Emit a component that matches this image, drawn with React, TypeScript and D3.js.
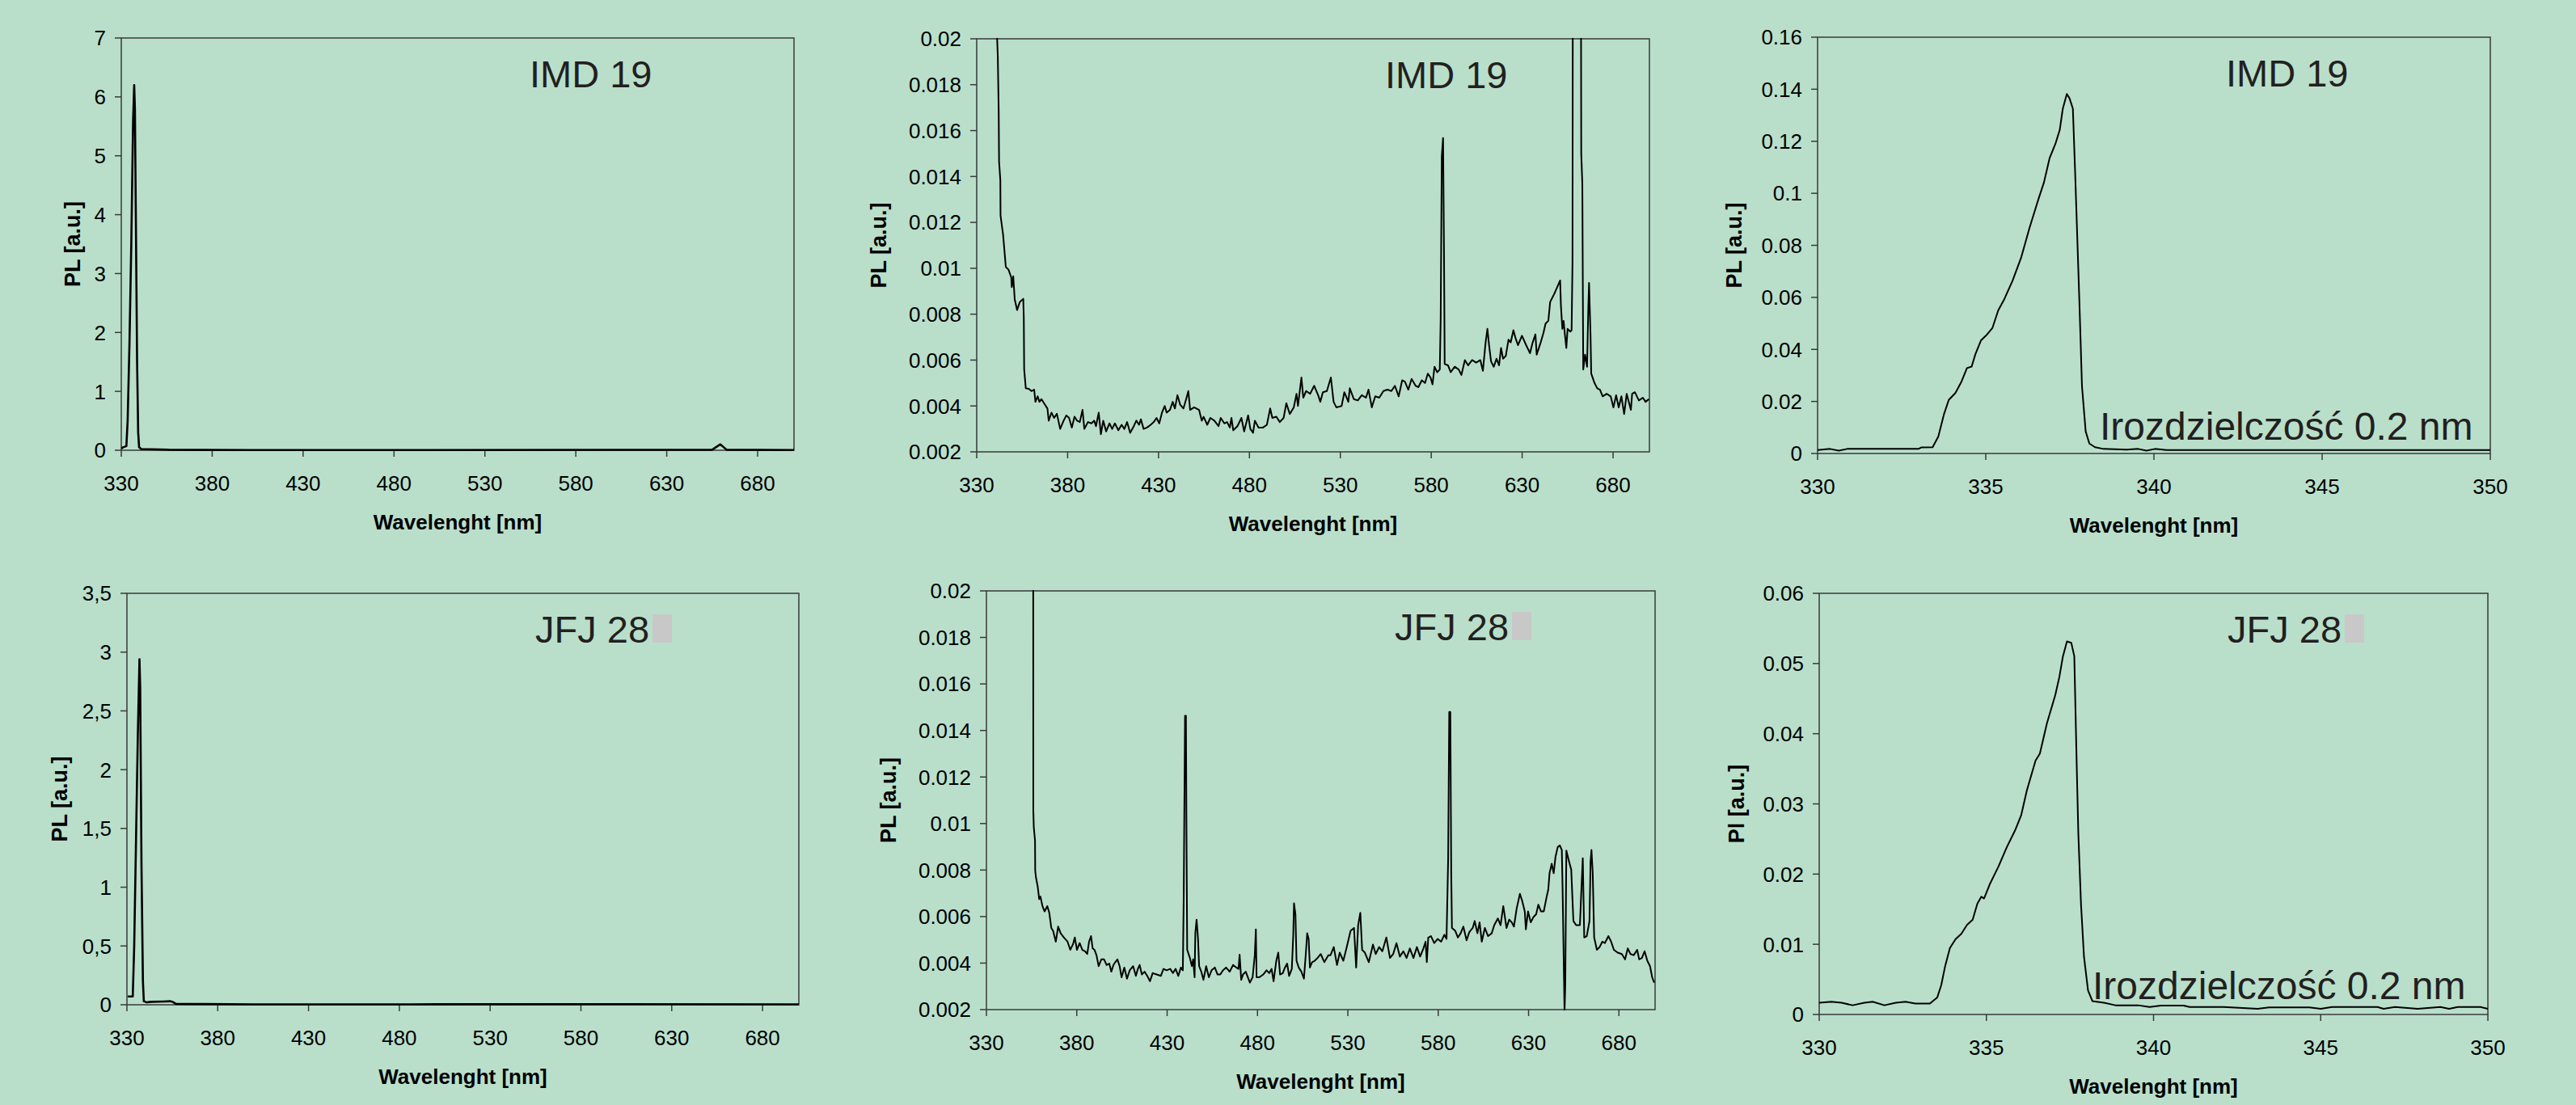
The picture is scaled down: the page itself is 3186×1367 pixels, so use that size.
import * as d3 from 'd3';

// --- data: [wavelength nm, PL a.u.] ---
const imd19Full: [number, number][] = [
  [330, 0.03], [331, 0.05], [332.8, 0.07], [333.5, 0.5], [334.5, 1.8], [335.5, 3.5],
  [336.5, 5.6], [337.1, 6.2], [337.5, 5.8], [338, 4.0], [338.7, 1.5], [339.3, 0.3],
  [339.8, 0.05], [341, 0.02], [356, 0.008], [400, 0.003], [500, 0.004], [655, 0.008],
  [657, 0.05], [659.5, 0.1], [661, 0.06], [663, 0.008], [700, 0.004],
];

const jfj28Full: [number, number][] = [
  [330.5, 0.07], [333.2, 0.07], [334, 0.5], [335, 1.4], [336, 2.3], [336.9, 2.94],
  [337.3, 2.7], [338, 1.2], [338.8, 0.2], [339.3, 0.03], [341, 0.02], [343, 0.025],
  [350, 0.028], [354, 0.03], [355.5, 0.022], [357, 0.008], [400, 0.0035], [500, 0.004],
  [600, 0.005], [700, 0.003],
];

const imd19Mid: [number, number][] = [
  [340.5, 0.03], [341.0, 0.0205], [341.6, 0.01924], [342.1, 0.01677], [342.3, 0.01465], [343.0, 0.01383],
  [343.1, 0.0123], [344.5, 0.01147], [346.0, 0.01006], [347.5, 0.00994], [349.0, 0.0096], [349.3, 0.00918],
  [350.1, 0.00965], [350.9, 0.00865], [352.2, 0.00818], [353.7, 0.00853], [355.6, 0.00867], [355.9, 0.00783],
  [356.1, 0.0056], [357.0, 0.00477], [358.6, 0.00475], [360.1, 0.00465], [361.6, 0.00471], [362.3, 0.00418],
  [363.5, 0.00442], [364.5, 0.00418], [365.6, 0.0043], [367.0, 0.00412], [368.9, 0.00389], [369.6, 0.00336],
  [371.1, 0.00371], [372.6, 0.00348], [374.1, 0.00366], [375.9, 0.003], [377.8, 0.00336], [379.3, 0.00359],
  [380.8, 0.00348], [382.3, 0.00306], [383.8, 0.00353], [385.2, 0.00336], [386.7, 0.0033], [388.2, 0.00383],
  [389.2, 0.003], [391.2, 0.0033], [393.1, 0.00324], [394.6, 0.00336], [395.6, 0.00312], [397.1, 0.00371],
  [398.3, 0.00277], [399.6, 0.00336], [401.2, 0.00289], [403.0, 0.00324], [404.5, 0.003], [406.0, 0.00324],
  [407.9, 0.00294], [409.7, 0.00318], [411.2, 0.003], [412.7, 0.0033], [414.4, 0.00283], [416.4, 0.00312],
  [417.8, 0.00336], [419.3, 0.00318], [420.3, 0.00342], [421.8, 0.003], [423.7, 0.00306], [425.7, 0.00318],
  [427.4, 0.0033], [428.9, 0.00348], [430.4, 0.00324], [431.9, 0.00371], [433.4, 0.004], [434.5, 0.00371],
  [436.3, 0.00383], [437.8, 0.00418], [439.0, 0.00389], [440.4, 0.00447], [441.9, 0.00406], [443.7, 0.00389],
  [445.2, 0.0043], [446.4, 0.00465], [447.4, 0.00383], [449.6, 0.00394], [452.3, 0.00383], [453.8, 0.00336],
  [454.8, 0.00353], [456.8, 0.00318], [458.5, 0.00348], [460.7, 0.00336], [463.0, 0.00312], [464.2, 0.00348],
  [466.2, 0.00324], [467.7, 0.0033], [469.2, 0.00306], [470.1, 0.00348], [471.1, 0.00294], [473.4, 0.00312],
  [475.6, 0.00348], [477.1, 0.00289], [479.3, 0.00359], [480.5, 0.003], [482.0, 0.00283], [483.0, 0.00336],
  [485.0, 0.00306], [487.5, 0.00306], [489.6, 0.00318], [491.4, 0.00389], [492.6, 0.00348], [494.8, 0.00353],
  [496.7, 0.0033], [498.8, 0.00348], [500.3, 0.00412], [502.2, 0.00365], [504.4, 0.00394], [505.9, 0.00453],
  [506.7, 0.004], [508.6, 0.00524], [509.6, 0.00436], [511.2, 0.00465], [513.4, 0.00453], [515.6, 0.00488],
  [517.8, 0.00447], [519.0, 0.00418], [520.4, 0.0046], [522.6, 0.00465], [524.8, 0.00524], [526.3, 0.00418],
  [527.8, 0.00394], [530.7, 0.004], [532.2, 0.0046], [534.4, 0.00418], [535.2, 0.00477], [537.4, 0.0043],
  [539.6, 0.00424], [541.8, 0.00447], [544.1, 0.00436], [545.5, 0.00471], [547.3, 0.00394], [549.2, 0.00442],
  [551.4, 0.00436], [553.7, 0.00465], [555.9, 0.00471], [558.1, 0.00465], [560.0, 0.00488], [562.1, 0.00442],
  [564.0, 0.00512], [565.5, 0.00506], [567.4, 0.00471], [569.2, 0.00518], [571.4, 0.00488], [572.9, 0.00482],
  [574.8, 0.00512], [576.6, 0.005], [578.1, 0.00541], [579.6, 0.00524], [580.7, 0.00494], [581.8, 0.00571],
  [583.3, 0.00547], [584.7, 0.00559], [585.2, 0.00783], [585.8, 0.01488], [586.5, 0.01568], [587.0, 0.01088],
  [587.4, 0.00583], [589.2, 0.00577], [590.7, 0.00547], [592.9, 0.00571], [595.1, 0.00559], [596.6, 0.00535],
  [598.5, 0.006], [600.3, 0.00577], [602.5, 0.006], [604.7, 0.00589], [607.0, 0.006], [608.4, 0.00553],
  [609.9, 0.00677], [610.9, 0.00736], [611.8, 0.00665], [612.9, 0.00594], [614.4, 0.00571], [615.9, 0.00606],
  [617.3, 0.00577], [618.4, 0.00653], [619.5, 0.00606], [621.0, 0.00618], [622.5, 0.00689], [623.7, 0.00677],
  [625.2, 0.0073], [626.2, 0.007], [627.7, 0.00665], [629.9, 0.00706], [632.2, 0.00665], [634.3, 0.0063],
  [635.8, 0.00677], [637.3, 0.00712], [638.0, 0.00624], [640.2, 0.00677], [641.7, 0.00718], [642.9, 0.00759],
  [644.4, 0.00771], [645.4, 0.00853], [647.7, 0.00889], [650.9, 0.00947], [651.3, 0.00842], [652.1, 0.00736],
  [652.8, 0.00771], [653.5, 0.00712], [654.3, 0.00653], [655.0, 0.00736], [656.5, 0.00724], [657.2, 0.0073],
  [657.7, 0.0103], [658.1, 0.04], [660.0, 0.06], [662.2, 0.03], [662.5, 0.015], [663.1, 0.0137],
  [663.6, 0.00559], [664.6, 0.00624], [665.7, 0.00571], [666.4, 0.0083], [666.8, 0.00936], [667.6, 0.00712],
  [668.0, 0.00541], [669.8, 0.005], [671.3, 0.00477], [672.8, 0.00471], [674.3, 0.00442], [676.5, 0.00453],
  [678.7, 0.00442], [680.2, 0.00394], [681.7, 0.00447], [683.1, 0.00394], [684.6, 0.00442], [686.1, 0.00365],
  [687.5, 0.00453], [689.8, 0.00383], [690.5, 0.00453], [692.0, 0.0046], [694.2, 0.00424], [696.4, 0.00436],
  [697.9, 0.00418], [699.7, 0.0043],
];

const jfj28Mid: [number, number][] = [
  [355.6, 0.03], [355.9, 0.0205], [355.95, 0.01057], [356.2, 0.00986], [356.9, 0.00927], [357.0, 0.00798],
  [357.4, 0.00769], [358.4, 0.00728], [359.2, 0.00675], [359.9, 0.00686], [361.0, 0.00645], [362.2, 0.00622],
  [363.7, 0.00645], [364.8, 0.00616], [365.9, 0.00551], [366.9, 0.00539], [368.4, 0.00492], [369.7, 0.00557],
  [371.1, 0.00528], [372.9, 0.0051], [374.9, 0.00492], [376.4, 0.00457], [377.9, 0.00481], [378.9, 0.0051],
  [380.1, 0.00457], [381.6, 0.00486], [383.1, 0.00457], [384.6, 0.00451], [385.8, 0.00439], [386.8, 0.00492],
  [387.9, 0.00516], [388.8, 0.00463], [389.8, 0.00457], [390.9, 0.00434], [392.1, 0.00387], [393.6, 0.00416],
  [395.1, 0.00416], [396.5, 0.00392], [398.0, 0.00398], [399.1, 0.00363], [400.3, 0.00392], [401.3, 0.00404],
  [402.5, 0.00416], [403.7, 0.00387], [404.8, 0.00339], [406.3, 0.00381], [407.8, 0.00333], [409.3, 0.00369],
  [411.2, 0.00387], [412.7, 0.00345], [413.8, 0.00375], [414.8, 0.00392], [416.0, 0.00351], [417.5, 0.00363],
  [419.0, 0.00345], [420.5, 0.00322], [422.0, 0.00357], [424.2, 0.00351], [426.5, 0.00345], [428.0, 0.00375],
  [429.7, 0.00369], [431.7, 0.00375], [433.2, 0.00357], [434.7, 0.00375], [436.2, 0.00345], [437.6, 0.00381],
  [438.7, 0.00369], [439.2, 0.00704], [439.9, 0.01463], [440.4, 0.01463], [440.7, 0.00963], [441.1, 0.00457],
  [442.6, 0.00422], [443.7, 0.00387], [444.4, 0.00416], [445.2, 0.00339], [445.6, 0.00528], [446.3, 0.00587],
  [447.1, 0.00504], [447.7, 0.00387], [448.9, 0.00363], [450.1, 0.00328], [451.6, 0.00387], [453.1, 0.00339],
  [454.6, 0.00369], [456.4, 0.00381], [457.9, 0.00351], [459.4, 0.00351], [460.9, 0.00369], [462.6, 0.00381],
  [464.6, 0.00363], [466.5, 0.00392], [468.3, 0.00381], [469.5, 0.00375], [470.1, 0.00436], [471.0, 0.00328],
  [472.0, 0.00351], [473.5, 0.00363], [475.8, 0.00316], [477.3, 0.00339], [478.5, 0.00434], [479.1, 0.00545],
  [479.5, 0.00339], [481.0, 0.00339], [483.2, 0.00351], [485.0, 0.00369], [486.5, 0.00357], [487.8, 0.00375],
  [488.9, 0.00322], [490.4, 0.0041], [491.5, 0.00445], [492.5, 0.00351], [494.0, 0.00357], [495.2, 0.00381],
  [496.4, 0.00398], [497.5, 0.00345], [499.0, 0.00375], [499.8, 0.00522], [500.2, 0.00657], [501.0, 0.0061],
  [501.6, 0.0041], [502.8, 0.00381], [504.3, 0.00363], [505.7, 0.00333], [506.9, 0.00457], [507.5, 0.00528],
  [508.3, 0.00504], [509.0, 0.00381], [510.2, 0.00404], [511.7, 0.0041], [513.2, 0.00422], [515.0, 0.00439],
  [517.0, 0.00404], [519.2, 0.00434], [520.4, 0.00434], [522.2, 0.00469], [524.0, 0.00392], [525.5, 0.00445],
  [527.5, 0.0041], [529.4, 0.00469], [531.5, 0.00539], [533.4, 0.00551], [534.6, 0.00381], [535.7, 0.00563],
  [536.9, 0.00616], [537.9, 0.00457], [539.4, 0.00445], [541.6, 0.00404], [543.9, 0.0048], [545.4, 0.00439],
  [547.3, 0.00469], [549.1, 0.00451], [551.3, 0.0051], [553.3, 0.00422], [555.1, 0.00439], [556.9, 0.00486],
  [558.8, 0.00428], [560.7, 0.00451], [562.5, 0.00422], [564.3, 0.00463], [566.3, 0.00422], [568.2, 0.00469],
  [570.0, 0.00428], [571.8, 0.00463], [573.0, 0.00492], [573.7, 0.00404], [574.5, 0.0051], [576.0, 0.00516],
  [577.8, 0.00486], [579.7, 0.00504], [581.6, 0.00492], [583.4, 0.00522], [584.6, 0.00504], [585.5, 0.00845],
  [586.1, 0.0148], [586.7, 0.0148], [587.2, 0.00786], [587.6, 0.00551], [589.4, 0.00539], [590.9, 0.0051],
  [592.4, 0.00528], [593.9, 0.00557], [595.7, 0.00498], [597.2, 0.00533], [599.1, 0.00551], [600.2, 0.00581],
  [601.7, 0.00528], [602.9, 0.00575], [604.1, 0.00492], [605.8, 0.00551], [607.6, 0.00516], [609.6, 0.00528],
  [611.0, 0.00563], [613.0, 0.00592], [614.5, 0.00563], [616.0, 0.00645], [617.8, 0.00551], [619.3, 0.00587],
  [620.7, 0.00575], [621.9, 0.00557], [623.4, 0.00634], [625.2, 0.00698], [626.4, 0.00669], [627.9, 0.00622],
  [628.5, 0.00545], [629.7, 0.00622], [631.2, 0.00575], [632.7, 0.00598], [634.2, 0.0061], [635.4, 0.00651],
  [636.9, 0.00622], [638.4, 0.00622], [639.9, 0.00681], [640.9, 0.00716], [641.6, 0.00786], [642.8, 0.00827],
  [643.9, 0.00786], [644.9, 0.00857], [646.1, 0.00898], [647.3, 0.00906], [648.4, 0.00886], [648.8, 0.00728],
  [649.9, 0.0019], [650.3, 0.00304], [650.9, 0.00884], [652.4, 0.00837], [653.6, 0.00802], [654.8, 0.00581],
  [656.3, 0.00563], [658.4, 0.00563], [659.3, 0.00728], [660.0, 0.00851], [660.8, 0.0051], [662.2, 0.00516],
  [663.7, 0.00581], [664.3, 0.00837], [664.8, 0.00886], [665.5, 0.00786], [666.3, 0.0051], [667.8, 0.00457],
  [669.3, 0.00469], [670.8, 0.00492], [672.2, 0.00486], [674.2, 0.00516], [675.7, 0.00492], [677.2, 0.00457],
  [679.3, 0.00445], [681.6, 0.00439], [683.4, 0.00416], [684.9, 0.00463], [686.4, 0.00439], [688.2, 0.00434],
  [690.1, 0.00457], [691.2, 0.00416], [692.7, 0.00422], [694.2, 0.00451], [695.7, 0.0041], [697.2, 0.00387],
  [698.4, 0.00339], [699.5, 0.00316],
];

const imd19Peak: [number, number][] = [
  [330, 0.00135], [330.37, 0.00175], [330.63, 0.00108], [330.88, 0.00175], [333.0, 0.00175], [333.08, 0.0023],
  [333.42, 0.0024], [333.59, 0.0065], [333.76, 0.0152], [333.9, 0.0206], [334.1, 0.0233], [334.27, 0.0274],
  [334.44, 0.0328], [334.58, 0.0334], [334.69, 0.0381], [334.86, 0.0435], [335.03, 0.0456], [335.2, 0.0483],
  [335.37, 0.055], [335.54, 0.059], [335.8, 0.0665], [336.05, 0.0752], [336.3, 0.0867], [336.56, 0.0975],
  [336.73, 0.1042], [336.9, 0.1136], [337.07, 0.119], [337.2, 0.1244], [337.29, 0.1325], [337.41, 0.1382],
  [337.49, 0.1365], [337.59, 0.1325], [337.66, 0.1069], [337.78, 0.0597], [337.86, 0.026], [337.97, 0.0085],
  [338.08, 0.0038], [338.25, 0.0024], [338.5, 0.00175], [339.19, 0.00148], [339.53, 0.00175], [339.78, 0.00108],
  [340.03, 0.00175], [340.37, 0.00135], [350, 0.00135],
];

const jfj28Peak: [number, number][] = [
  [330, 0.00166], [330.36, 0.00181], [330.67, 0.00166], [331.0, 0.00131], [331.35, 0.00166], [331.6, 0.00181],
  [331.95, 0.00131], [332.29, 0.00166], [332.58, 0.00181], [332.88, 0.00156], [333.31, 0.00156], [333.53, 0.00242],
  [333.65, 0.00418], [333.77, 0.00695], [333.91, 0.00947], [334.08, 0.01073], [334.25, 0.01149], [334.42, 0.01275],
  [334.59, 0.0135], [334.73, 0.01577], [334.85, 0.01678], [334.93, 0.01652], [335.1, 0.01854], [335.36, 0.02106],
  [335.61, 0.02383], [335.87, 0.02635], [336.04, 0.02836], [336.21, 0.03189], [336.47, 0.03617], [336.6, 0.03718],
  [336.81, 0.04146], [337.06, 0.04549], [337.18, 0.04801], [337.29, 0.05103], [337.41, 0.05315], [337.54, 0.05295],
  [337.63, 0.05103], [337.7, 0.03592], [337.75, 0.02584], [337.83, 0.01577], [337.92, 0.00821], [338.04, 0.00343],
  [338.17, 0.00191], [338.52, 0.00166], [338.86, 0.00131], [339.54, 0.00131], [339.88, 0.00106], [340.22, 0.00126],
  [340.9, 0.00126], [341.08, 0.00106], [342.1, 0.00106], [343.12, 0.00081], [343.46, 0.00101], [344.66, 0.00101],
  [345.0, 0.00081], [345.34, 0.00106], [346.7, 0.00106], [346.88, 0.00081], [347.22, 0.00106], [347.9, 0.00081],
  [348.58, 0.00106], [348.84, 0.00081], [349.1, 0.00106], [349.78, 0.00106], [350, 0.00081],
];

// --- ticks ---
const wideTicks = [330, 380, 430, 480, 530, 580, 630, 680];
const narrowTicks = [330, 335, 340, 345, 350];
const imdFullTicks = [0, 1, 2, 3, 4, 5, 6, 7];
const jfjFullTicks = [0, 0.5, 1, 1.5, 2, 2.5, 3, 3.5];
const jfjFullLabels = ['0', '0,5', '1', '1,5', '2', '2,5', '3', '3,5'];
const midTicks = [0.002, 0.004, 0.006, 0.008, 0.01, 0.012, 0.014, 0.016, 0.018, 0.02];
const imdPeakTicks = [0, 0.02, 0.04, 0.06, 0.08, 0.1, 0.12, 0.14, 0.16];
const jfjPeakTicks = [0, 0.01, 0.02, 0.03, 0.04, 0.05, 0.06];

const FONT = '"Liberation Sans", Arial, Helvetica, sans-serif';
const BG = '#b9dfcb';

type Box = { left: number; top: number; right: number; bottom: number };

interface PanelProps {
  id: string;
  box: Box;
  xDomain: [number, number];
  xTicks: number[];
  yDomain: [number, number];
  yTicks: number[];
  yLabels?: string[];
  data: [number, number][];
  yLabel: string;
  yLabelOffset: number;
  title: string;
  lineWidth?: number;
  marker?: boolean;
  note?: { dx: number; dy: number };
}

const fmt = (v: number) => String(+v.toFixed(4));

function Panel(p: PanelProps) {
  const { left, top, right, bottom } = p.box;
  const x = d3.scaleLinear().domain(p.xDomain).range([left, right]);
  const y = d3.scaleLinear().domain(p.yDomain).range([bottom, top]);
  const line = d3
    .line<[number, number]>()
    .x((d) => x(d[0]))
    .y((d) => y(d[1]));
  const midY = (top + bottom) / 2;
  const titleX = left + 505;
  const titleY = top + 61;

  return (
    <g>
      <defs>
        <clipPath id={p.id}>
          <rect x={left} y={top - 1} width={right - left} height={bottom - top + 2} />
        </clipPath>
      </defs>
      <rect x={left} y={top} width={right - left} height={bottom - top} fill="none" stroke="#3a3a3a" strokeWidth={1.5} />

      {p.yTicks.map((t, i) => (
        <g key={'y' + i}>
          <line x1={left - 8} x2={left} y1={y(t)} y2={y(t)} stroke="#3a3a3a" strokeWidth={1.5} />
          <text x={left - 19} y={y(t)} dy="0.36em" textAnchor="end" fontSize={26} fontFamily={FONT} fill="#000">
            {p.yLabels ? p.yLabels[i] : fmt(t)}
          </text>
        </g>
      ))}

      {p.xTicks.map((t) => (
        <g key={'x' + t}>
          <line x1={x(t)} x2={x(t)} y1={bottom} y2={bottom + 8} stroke="#3a3a3a" strokeWidth={1.5} />
          <text x={x(t)} y={bottom + 50} textAnchor="middle" fontSize={26} fontFamily={FONT} fill="#000">
            {t}
          </text>
        </g>
      ))}

      <path
        d={line(p.data) ?? ''}
        fill="none"
        stroke="#000"
        strokeWidth={p.lineWidth ?? 2}
        strokeLinejoin="round"
        clipPath={`url(#${p.id})`}
      />

      <text x={titleX} y={titleY} fontSize={47} fontFamily={FONT} fill="#231f20">
        {p.title}
      </text>
      {p.marker && <rect x={titleX + 145} y={titleY - 35} width={24} height={35} fill="#c8c8c8" />}

      {p.note && (
        <text x={left + p.note.dx} y={bottom - p.note.dy} fontSize={48} fontFamily={FONT} fill="#231f20">
          Irozdzielczość 0.2 nm
        </text>
      )}

      <text
        x={(left + right) / 2}
        y={bottom + 98}
        textAnchor="middle"
        fontSize={26}
        fontWeight="bold"
        fontFamily={FONT}
        fill="#000"
      >
        Wavelenght [nm]
      </text>
      <text
        transform={`translate(${left - p.yLabelOffset},${midY}) rotate(-90)`}
        textAnchor="middle"
        dy="0.36em"
        fontSize={27}
        fontWeight="bold"
        fontFamily={FONT}
        fill="#000"
      >
        {p.yLabel}
      </text>
    </g>
  );
}

export default function App() {
  return (
    <svg
      width={3186}
      height={1367}
      style={{ position: 'absolute', left: 0, top: 0, background: BG }}
    >
      <rect width={3186} height={1367} fill={BG} />
      <Panel
        id="c1"
        box={{ left: 150, top: 47, right: 982, bottom: 557 }}
        xDomain={[330, 700]}
        xTicks={wideTicks}
        yDomain={[0, 7]}
        yTicks={imdFullTicks}
        data={imd19Full}
        yLabel="PL [a.u.]"
        yLabelOffset={61}
        title="IMD 19"
        lineWidth={2.6}
      />
      <Panel
        id="c2"
        box={{ left: 1208, top: 48, right: 2040, bottom: 559 }}
        xDomain={[330, 700]}
        xTicks={wideTicks}
        yDomain={[0.002, 0.02]}
        yTicks={midTicks}
        data={imd19Mid}
        yLabel="PL [a.u.]"
        yLabelOffset={122}
        title="IMD 19"
      />
      <Panel
        id="c3"
        box={{ left: 2248, top: 46, right: 3080, bottom: 561 }}
        xDomain={[330, 350]}
        xTicks={narrowTicks}
        yDomain={[0, 0.16]}
        yTicks={imdPeakTicks}
        data={imd19Peak}
        yLabel="PL [a.u.]"
        yLabelOffset={104}
        title="IMD 19"
        note={{ dx: 349, dy: 17 }}
      />
      <Panel
        id="c4"
        box={{ left: 157, top: 734, right: 988, bottom: 1243 }}
        xDomain={[330, 700]}
        xTicks={wideTicks}
        yDomain={[0, 3.5]}
        yTicks={jfjFullTicks}
        yLabels={jfjFullLabels}
        data={jfj28Full}
        yLabel="PL [a.u.]"
        yLabelOffset={84}
        title="JFJ 28"
        lineWidth={2.6}
        marker
      />
      <Panel
        id="c5"
        box={{ left: 1220, top: 731, right: 2047, bottom: 1249 }}
        xDomain={[330, 700]}
        xTicks={wideTicks}
        yDomain={[0.002, 0.02]}
        yTicks={midTicks}
        data={jfj28Mid}
        yLabel="PL [a.u.]"
        yLabelOffset={122}
        title="JFJ 28"
        marker
      />
      <Panel
        id="c6"
        box={{ left: 2250, top: 734, right: 3077, bottom: 1255 }}
        xDomain={[330, 350]}
        xTicks={narrowTicks}
        yDomain={[0, 0.06]}
        yTicks={jfjPeakTicks}
        data={jfj28Peak}
        yLabel="Pl [a.u.]"
        yLabelOffset={103}
        title="JFJ 28"
        marker
        note={{ dx: 338, dy: 19 }}
      />
    </svg>
  );
}
